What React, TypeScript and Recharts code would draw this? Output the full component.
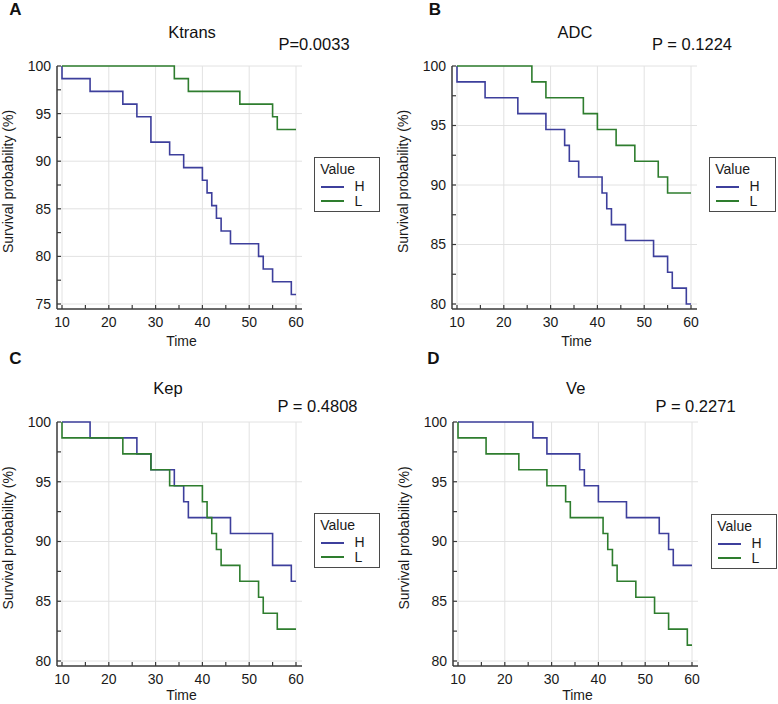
import React from 'react';
import { LineChart, Line, XAxis, YAxis, CartesianGrid, Legend, Label } from 'recharts';

// ---------- data ----------
const groupNames = ['H', 'L'];
const xAllTicks = [10, 15, 20, 25, 30, 35, 40, 45, 50, 55, 60];
const xMajorTicks = [10, 20, 30, 40, 50, 60];
const yTicksA = [75, 77.5, 80, 82.5, 85, 87.5, 90, 92.5, 95, 97.5, 100];
const yMajorA = [75, 80, 85, 90, 95, 100];
const yTicksB = [80, 82.5, 85, 87.5, 90, 92.5, 95, 97.5, 100];
const yMajorB = [80, 85, 90, 95, 100];

// A: Ktrans
const ktransHTime = [10, 10, 16, 23, 26, 29, 33, 36, 40, 41, 42, 43, 44, 46, 52, 53, 55, 59, 60];
const ktransHSurv = [100, 98.67, 97.33, 96, 94.67, 92, 90.67, 89.33, 88, 86.67, 85.33, 84, 82.67, 81.33, 80, 78.67, 77.33, 76, 76];
const ktransLTime = [10, 34, 37, 48, 55, 56, 60];
const ktransLSurv = [100, 98.67, 97.33, 96, 94.67, 93.33, 93.33];

// B: ADC
const adcHTime = [10, 10, 16, 23, 29, 33, 34, 36, 41, 42, 43, 46, 52, 55, 56, 59, 60];
const adcHSurv = [100, 98.67, 97.33, 96, 94.67, 93.33, 92, 90.67, 89.33, 88, 86.67, 85.33, 84, 82.67, 81.33, 80, 80];
const adcLTime = [10, 26, 29, 37, 40, 44, 48, 53, 55, 60];
const adcLSurv = [100, 98.67, 97.33, 96, 94.67, 93.33, 92, 90.67, 89.33, 89.33];

// C: Kep
const kepHTime = [10, 16, 26, 29, 34, 36, 37, 46, 55, 59, 60];
const kepHSurv = [100, 98.67, 97.33, 96, 94.67, 93.33, 92, 90.67, 88, 86.67, 86.67];
const kepLTime = [10, 10, 23, 29, 33, 40, 41, 42, 43, 44, 48, 52, 53, 56, 60];
const kepLSurv = [100, 98.67, 97.33, 96, 94.67, 93.33, 92, 90.67, 89.33, 88, 86.67, 85.33, 84, 82.67, 82.67];

// D: Ve
const veHTime = [10, 26, 29, 36, 37, 40, 46, 53, 55, 56, 60];
const veHSurv = [100, 98.67, 97.33, 96, 94.67, 93.33, 92, 90.67, 89.33, 88, 88];
const veLTime = [10, 10, 16, 23, 29, 33, 34, 41, 42, 43, 44, 48, 52, 55, 59, 60];
const veLSurv = [100, 98.67, 97.33, 96, 94.67, 93.33, 92, 90.67, 89.33, 88, 86.67, 85.33, 84, 82.67, 81.33, 81.33];

const panelLetters = ['A', 'B', 'C', 'D'];
const panelTitles = ['Ktrans', 'ADC', 'Kep', 'Ve'];
const pTexts = ['P=0.0033', 'P = 0.1224', 'P = 0.4808', 'P = 0.2271'];

// ---------- style ----------
const FONT = "Arial, 'Liberation Sans', Helvetica, sans-serif";
const BLUE = '#3d3f9c';
const GREEN = '#2e7d2e';
const AXIS = '#3a3a3a';
const GRID = '#e2e2e2';

const toPts = (t: number[], s: number[]) => t.map((v, i) => ({ t: v, s: s[i] }));

const panels = [
  {
    hT: ktransHTime, hS: ktransHSurv, lT: ktransLTime, lS: ktransLSurv,
    yDomain: [75, 100], yTicks: yTicksA, yMajor: yMajorA,
    left: 0, top: 0, width: 390, height: 352,
    margin: { top: 66, right: 88, bottom: 3, left: 0 }, yW: 57, xH: 40, timeOff: 37,
    legend: { left: 314, top: 157, width: 66 },
    letter: { x: 15.5, y: 9 }, title: { x: 192, y: 32.5 }, p: { x: 314, y: 43.7 },
  },
  {
    hT: adcHTime, hS: adcHSurv, lT: adcLTime, lS: adcLSurv,
    yDomain: [80, 100], yTicks: yTicksB, yMajor: yMajorB,
    left: 390, top: 0, width: 388, height: 352,
    margin: { top: 66, right: 81, bottom: 3, left: 0 }, yW: 62, xH: 40, timeOff: 37,
    legend: { left: 319, top: 157, width: 67 },
    letter: { x: 435, y: 9 }, title: { x: 575, y: 32.5 }, p: { x: 692, y: 43.7 },
  },
  {
    hT: kepHTime, hS: kepHSurv, lT: kepLTime, lS: kepLSurv,
    yDomain: [80, 100], yTicks: yTicksB, yMajor: yMajorB,
    left: 0, top: 340, width: 390, height: 364,
    margin: { top: 82, right: 88, bottom: 2, left: 0 }, yW: 57, xH: 36, timeOff: 34,
    legend: { left: 314, top: 173, width: 66 },
    letter: { x: 15.5, y: 358.5 }, title: { x: 168, y: 388.5 }, p: { x: 317.5, y: 406 },
  },
  {
    hT: veHTime, hS: veHSurv, lT: veLTime, lS: veLSurv,
    yDomain: [80, 100], yTicks: yTicksB, yMajor: yMajorB,
    left: 390, top: 340, width: 388, height: 364,
    margin: { top: 82, right: 80, bottom: 2, left: 0 }, yW: 63, xH: 36, timeOff: 34,
    legend: { left: 321, top: 174, width: 66 },
    letter: { x: 433.5, y: 358.5 }, title: { x: 575.7, y: 388.5 }, p: { x: 695.6, y: 406 },
  },
];

const fmtX = (v: number) => (v % 10 === 0 ? String(v) : '');
const fmtY = (v: number) => (v % 5 === 0 ? String(v) : '');

const makeTimeLabel = (off: number) => (props: any) => {
  const vb = props.viewBox || {};
  const x = (vb.x || 0) + (vb.width || 0) / 2 + 2;
  const y = (vb.y || 0) + off;
  return (
    <text x={x} y={y} textAnchor="middle" fontSize={14} fill="#1a1a1a" fontFamily={FONT}>
      Time
    </text>
  );
};

function YTitle(props: any) {
  const vb = props.viewBox || {};
  const x = (vb.x || 0) + (vb.width || 0) - 44;
  const y = (vb.y || 0) + (vb.height || 0) / 2 - 6;
  return (
    <text x={x} y={y} transform={`rotate(-90 ${x} ${y})`} textAnchor="middle" fontSize={14} fill="#1a1a1a" fontFamily={FONT}>
      Survival probability (%)
    </text>
  );
}

function LegendBox(props: any) {
  const payload = props.payload || [];
  const items = payload.length
    ? payload.map((p: any) => ({ name: p.value, color: p.color }))
    : [{ name: groupNames[0], color: BLUE }, { name: groupNames[1], color: GREEN }];
  return (
    <div
      style={{
        position: 'relative', width: '100%', height: 55, boxSizing: 'border-box',
        border: '1.5px solid #4a4a4a', background: '#fff', fontFamily: FONT,
        fontSize: 14, lineHeight: '14px', color: '#1a1a1a',
      }}
    >
      <div style={{ position: 'absolute', left: 5.2, top: 4 }}>Value</div>
      {items.map((it: any, i: number) => (
        <React.Fragment key={it.name}>
          <div style={{ position: 'absolute', left: 6, top: 28 + i * 14, width: 23, height: 2, background: it.color }} />
          <div style={{ position: 'absolute', left: 39.5, top: 21.3 + i * 15 }}>{it.name}</div>
        </React.Fragment>
      ))}
    </div>
  );
}

function Txt({ x, y, size, bold, children }: any) {
  return (
    <div
      style={{
        position: 'absolute', left: x, top: y - 0.49 * size, transform: 'translateX(-50%)',
        fontSize: size, lineHeight: `${size}px`, fontWeight: bold ? 700 : 400,
        whiteSpace: 'nowrap', color: '#111', fontFamily: FONT,
      }}
    >
      {children}
    </div>
  );
}

function Panel({ cfg }: any) {
  const hData = toPts(cfg.hT, cfg.hS);
  const lData = toPts(cfg.lT, cfg.lS);
  return (
    <div style={{ position: 'absolute', left: cfg.left, top: cfg.top, width: cfg.width, height: cfg.height }}>
      <LineChart width={cfg.width} height={cfg.height} margin={cfg.margin}>
        <CartesianGrid stroke={GRID} strokeWidth={1} horizontalValues={cfg.yMajor} verticalValues={xMajorTicks} />
        <XAxis
          type="number" dataKey="t" domain={[10, 60]} ticks={xAllTicks} interval={0}
          tickFormatter={fmtX} padding={{ left: 5, right: 6 }} height={cfg.xH}
          axisLine={{ stroke: AXIS, strokeWidth: 1.5 }} tickLine={{ stroke: AXIS, strokeWidth: 1.2 }}
          tickSize={-4} tickMargin={12} tick={{ fill: '#1a1a1a', fontSize: 14 }}
        >
          <Label content={makeTimeLabel(cfg.timeOff)} />
        </XAxis>
        <YAxis
          type="number" domain={cfg.yDomain} ticks={cfg.yTicks} interval={0}
          tickFormatter={fmtY} padding={{ top: 0, bottom: 5 }} width={cfg.yW}
          axisLine={{ stroke: AXIS, strokeWidth: 1.5 }} tickLine={{ stroke: AXIS, strokeWidth: 1.2 }}
          tickSize={-4} tickMargin={10} tick={{ fill: '#1a1a1a', fontSize: 14 }}
        >
          <Label content={YTitle} />
        </YAxis>
        <Legend
          layout="vertical" align="center" verticalAlign="middle"
          wrapperStyle={{ left: cfg.legend.left, top: cfg.legend.top, width: cfg.legend.width, height: 55 }}
          content={(p: any) => <LegendBox {...p} />}
        />
        <Line data={hData} dataKey="s" name={groupNames[0]} type="stepAfter" stroke={BLUE} strokeWidth={1.6} dot={false} activeDot={false} isAnimationActive={false} />
        <Line data={lData} dataKey="s" name={groupNames[1]} type="stepAfter" stroke={GREEN} strokeWidth={1.6} dot={false} activeDot={false} isAnimationActive={false} />
      </LineChart>
    </div>
  );
}

export default function App() {
  return (
    <div style={{ position: 'absolute', left: 0, top: 0, width: 778, height: 704, background: '#fff', fontFamily: FONT, overflow: 'hidden' }}>
      {panels.map((cfg, i) => (
        <Panel key={i} cfg={cfg} />
      ))}
      {panels.map((cfg, i) => (
        <React.Fragment key={'t' + i}>
          <Txt x={cfg.letter.x} y={cfg.letter.y} size={17} bold>{panelLetters[i]}</Txt>
          <Txt x={cfg.title.x} y={cfg.title.y} size={16.5}>{panelTitles[i]}</Txt>
          <Txt x={cfg.p.x} y={cfg.p.y} size={16.5}>{pTexts[i]}</Txt>
        </React.Fragment>
      ))}
    </div>
  );
}
